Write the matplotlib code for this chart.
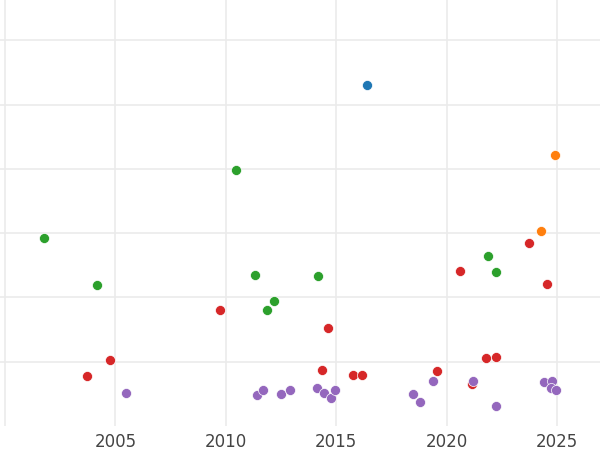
import matplotlib
matplotlib.use("Agg")
import matplotlib.pyplot as plt

# points per group (year, value)
blue_x = [2016.39]
blue_y = [5.30]

orange_x = [2024.91, 2024.28]
orange_y = [4.21, 3.03]

green_x = [2010.46, 2001.77, 2004.18, 2011.32, 2012.18, 2011.87, 2014.19, 2021.86, 2022.24]
green_y = [3.98, 2.93, 2.19, 2.35, 1.95, 1.80, 2.34, 2.65, 2.40]

red_x = [2003.73, 2004.74, 2009.74, 2014.61, 2014.37, 2015.78, 2016.17, 2019.55,
         2020.62, 2021.15, 2021.78, 2022.24, 2023.72, 2024.56]
red_y = [0.78, 1.03, 1.80, 1.53, 0.87, 0.80, 0.80, 0.85,
         2.41, 0.65, 1.05, 1.08, 2.85, 2.21]

purple_x = [2005.47, 2011.40, 2011.68, 2012.50, 2012.91, 2014.12, 2014.45, 2014.75,
            2014.93, 2018.49, 2018.81, 2019.38, 2021.19, 2022.25, 2024.40, 2024.77,
            2024.71, 2024.95]
purple_y = [0.52, 0.48, 0.56, 0.49, 0.56, 0.59, 0.52, 0.43,
            0.56, 0.50, 0.37, 0.70, 0.70, 0.31, 0.69, 0.70,
            0.59, 0.56]

year_ticks = [2000, 2005, 2010, 2015, 2020, 2025]
year_labels = ["", "2005", "2010", "2015", "2020", "2025"]

fig = plt.figure(figsize=(6, 4.5), dpi=100)
ax = fig.add_axes([0, 24 / 450, 1, 426 / 450])

groups = [
    (blue_x, blue_y, "tab:blue"),
    (orange_x, orange_y, "tab:orange"),
    (green_x, green_y, "tab:green"),
    (red_x, red_y, "tab:red"),
    (purple_x, purple_y, "tab:purple"),
]
for xs, ys, c in groups:
    ax.scatter(xs, ys, s=52, color=c, edgecolor="white", linewidth=0.5, zorder=3)

ax.set_xlim(1999.774, 2026.95)
ax.set_ylim(0, 426 / 64.3)
ax.set_xticks(year_ticks)
ax.set_xticklabels(year_labels)
ax.set_yticks([1, 2, 3, 4, 5, 6])
ax.set_yticklabels([])
ax.tick_params(length=0, labelsize=12, labelcolor="#444444", pad=5)
ax.grid(True, color="#ebebeb", linewidth=1.2)
ax.set_axisbelow(True)
for s in ax.spines.values():
    s.set_visible(False)

fig.savefig("out.png", dpi=100)
